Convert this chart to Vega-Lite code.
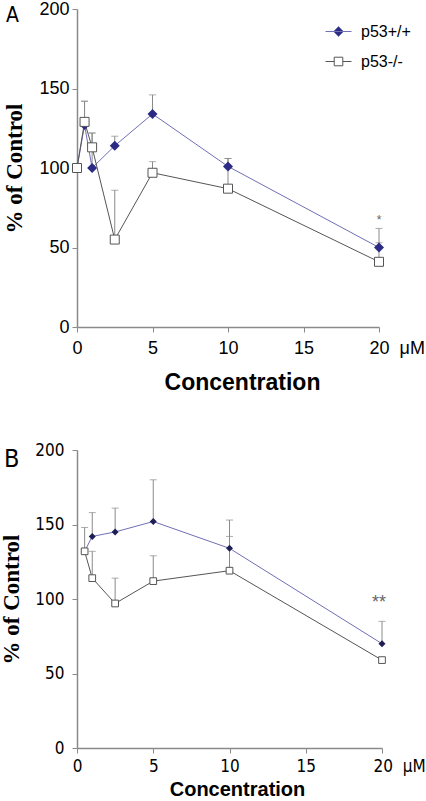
{
  "$schema": "https://vega.github.io/schema/vega-lite/v6.json",
  "padding": {"left": 0, "top": 0, "right": 0, "bottom": 0},
  "background": "white",
  "spacing": 47,
  "config": {
    "view": {"stroke": null},
    "axis": {"grid": false, "domainColor": "#8a8a8a", "domainWidth": 1.5, "tickColor": "#8a8a8a", "labelColor": "#000000", "titleColor": "#000000", "tickSize": 5}
  },
  "datasets": {
    "a": [
      {"x": 0, "v": 100, "err": null, "g": "p53+/+"},
      {"x": 0.5, "v": 127, "err": 142, "g": "p53+/+"},
      {"x": 1, "v": 100, "err": 122, "g": "p53+/+"},
      {"x": 2.5, "v": 114, "err": 120, "g": "p53+/+"},
      {"x": 5, "v": 134, "err": 146, "g": "p53+/+"},
      {"x": 10, "v": 101, "err": 106, "g": "p53+/+"},
      {"x": 20, "v": 50, "err": 62, "g": "p53+/+"},
      {"x": 0, "v": 100, "err": null, "g": "p53-/-"},
      {"x": 0.5, "v": 129, "err": 142, "g": "p53-/-"},
      {"x": 1, "v": 113, "err": 122, "g": "p53-/-"},
      {"x": 2.5, "v": 55, "err": 86, "g": "p53-/-"},
      {"x": 5, "v": 97, "err": 104, "g": "p53-/-"},
      {"x": 10, "v": 87, "err": 106, "g": "p53-/-"},
      {"x": 20, "v": 41, "err": 53, "g": "p53-/-"}
    ],
    "b": [
      {"x": 0.5, "v": 132, "err": null, "g": "p53+/+"},
      {"x": 1, "v": 142, "err": 158, "g": "p53+/+"},
      {"x": 2.5, "v": 145, "err": 161, "g": "p53+/+"},
      {"x": 5, "v": 152, "err": 180, "g": "p53+/+"},
      {"x": 10, "v": 134, "err": 153, "g": "p53+/+"},
      {"x": 20, "v": 70, "err": 85, "g": "p53+/+"},
      {"x": 0.5, "v": 132, "err": 148, "g": "p53-/-"},
      {"x": 1, "v": 114, "err": 132, "g": "p53-/-"},
      {"x": 2.5, "v": 97, "err": 114, "g": "p53-/-"},
      {"x": 5, "v": 112, "err": 129, "g": "p53-/-"},
      {"x": 10, "v": 119, "err": 142, "g": "p53-/-"},
      {"x": 20, "v": 59, "err": null, "g": "p53-/-"}
    ],
    "sigA": [{"x": 20, "y": 67, "t": "*"}],
    "sigB": [{"x": 19.8, "y": 97, "t": "**"}]
  },
  "vconcat": [
    {
      "width": 302,
      "height": 318,
      "title": {"text": "A", "anchor": "start", "frame": "group", "orient": "top", "dx": -71, "dy": 26, "baseline": "top", "offset": 0, "font": "DejaVu Sans Condensed, Liberation Sans", "fontSize": 21, "fontWeight": "normal", "color": "#000000"},
      "encoding": {
        "x": {"field": "x", "type": "quantitative", "scale": {"domain": [0, 20], "nice": false},
          "axis": {"values": [0, 5, 10, 15, 20], "title": "Concentration", "titleFont": "Liberation Sans", "titleFontSize": 23, "titleFontWeight": "bold", "titlePadding": 14, "titleX": 165,
            "labelFont": "Liberation Sans", "labelFontSize": 18, "labelPadding": 7, "labelFlush": false, "labelOverlap": false,
            "labelExpr": "datum.value == 20 ? '20\u00a0\u00a0μM' : datum.label",
            "labelAlign": {"condition": {"test": "datum.value == 20", "value": "left"}, "value": "center"},
            "labelOffset": {"condition": {"test": "datum.value == 20", "value": -10}, "value": 0}}},
        "y": {"field": "v", "type": "quantitative", "scale": {"domain": [0, 200], "nice": false},
          "axis": {"values": [0, 50, 100, 150, 200], "title": "% of Control", "titleFont": "Liberation Serif", "titleFontSize": 23, "titleFontWeight": "bold", "titlePadding": 12,
            "labelFont": "Liberation Sans", "labelFontSize": 18, "labelPadding": 3}}
      },
      "layer": [
        {"data": {"name": "a"}, "transform": [{"filter": "datum.err != null"}],
          "mark": {"type": "rule", "color": "#8a8a8a", "strokeWidth": 1},
          "encoding": {"y2": {"field": "err"}}},
        {"data": {"name": "a"}, "transform": [{"filter": "datum.err != null"}],
          "mark": {"type": "tick", "orient": "horizontal", "color": "#8a8a8a", "size": 7, "thickness": 1},
          "encoding": {"y": {"field": "err", "type": "quantitative"}}},
        {"data": {"name": "a"},
          "mark": {"type": "line", "strokeWidth": 1},
          "encoding": {"color": {"field": "g", "type": "nominal", "scale": {"domain": ["p53+/+", "p53-/-"], "range": ["#6f6fb5", "#555555"]},
            "legend": {"title": null, "orient": "none", "legendX": 248, "legendY": 9, "padding": 0, "symbolSize": 676, "symbolStrokeWidth": 1,
              "labelFont": "Liberation Sans", "labelFontSize": 16, "labelOffset": 9, "rowPadding": 8, "labelColor": "#000000",
              "encode": {"symbols": {"update": {
                "shape": {"signal": "datum.value == 'p53+/+' ? 'M-1,0H1M0,-0.38L0.38,0L0,0.38L-0.38,0Z' : 'M-1,0H-0.33M0.33,0H1M-0.33,-0.33H0.33V0.33H-0.33Z'"},
                "fill": {"signal": "datum.value == 'p53+/+' ? '#2b2b85' : '#ffffff'"},
                "fillOpacity": {"value": 1},
                "stroke": {"signal": "datum.value == 'p53+/+' ? '#6f6fb5' : '#444444'"},
                "strokeWidth": {"value": 1}}}}}}}},
        {"data": {"name": "a"}, "transform": [{"filter": "datum.g == 'p53+/+'"}],
          "mark": {"type": "point", "shape": "diamond", "filled": true, "color": "#2b2b85", "size": 100, "opacity": 1}},
        {"data": {"name": "a"}, "transform": [{"filter": "datum.g == 'p53-/-'"}],
          "mark": {"type": "point", "shape": "square", "filled": true, "fill": "#ffffff", "stroke": "#555555", "strokeWidth": 1, "size": 81, "opacity": 1}},
        {"data": {"name": "sigA"},
          "mark": {"type": "text", "font": "Liberation Sans", "fontSize": 12, "color": "#666666", "baseline": "middle"},
          "encoding": {"y": {"field": "y", "type": "quantitative"}, "text": {"field": "t"}}}
      ]
    },
    {
      "width": 305,
      "height": 298,
      "title": {"text": "B", "anchor": "start", "frame": "group", "orient": "top", "dx": -73, "dy": 31, "baseline": "top", "offset": 0, "font": "DejaVu Sans Condensed, Liberation Sans", "fontSize": 25, "fontWeight": "normal", "color": "#000000"},
      "encoding": {
        "x": {"field": "x", "type": "quantitative", "scale": {"domain": [0, 20], "nice": false},
          "axis": {"values": [0, 5, 10, 15, 20], "title": "Concentration", "titleFont": "Liberation Sans", "titleFontSize": 20, "titleFontWeight": "bold", "titlePadding": 5, "titleX": 160,
            "labelFont": "DejaVu Sans Condensed, Liberation Sans", "labelFontSize": 17, "labelPadding": 5, "labelFlush": false, "labelOverlap": false,
            "labelExpr": "datum.value == 20 ? '20\u00a0\u00a0μM' : datum.label",
            "labelAlign": {"condition": {"test": "datum.value == 20", "value": "left"}, "value": "center"},
            "labelOffset": {"condition": {"test": "datum.value == 20", "value": -9}, "value": 0}}},
        "y": {"field": "v", "type": "quantitative", "scale": {"domain": [0, 200], "nice": false},
          "axis": {"values": [0, 50, 100, 150, 200], "title": "% of Control", "titleFont": "Liberation Serif", "titleFontSize": 23, "titleFontWeight": "bold", "titlePadding": 11,
            "labelFont": "DejaVu Sans Condensed, Liberation Sans", "labelFontSize": 17, "labelPadding": 8}}
      },
      "layer": [
        {"data": {"name": "b"}, "transform": [{"filter": "datum.err != null"}],
          "mark": {"type": "rule", "color": "#8a8a8a", "strokeWidth": 1},
          "encoding": {"y2": {"field": "err"}}},
        {"data": {"name": "b"}, "transform": [{"filter": "datum.err != null"}],
          "mark": {"type": "tick", "orient": "horizontal", "color": "#8a8a8a", "size": 7, "thickness": 1},
          "encoding": {"y": {"field": "err", "type": "quantitative"}}},
        {"data": {"name": "b"},
          "mark": {"type": "line", "strokeWidth": 1},
          "encoding": {"color": {"field": "g", "type": "nominal", "scale": {"domain": ["p53+/+", "p53-/-"], "range": ["#7070b8", "#555555"]},
            "legend": {"title": null, "orient": "none", "legendX": 251, "legendY": -1, "padding": 0, "symbolSize": 676, "symbolStrokeWidth": 1,
              "labelFont": "DejaVu Sans Condensed, Liberation Sans", "labelFontSize": 17, "labelOffset": 14, "rowPadding": 12, "labelColor": "#000000",
              "encode": {"symbols": {"update": {
                "shape": {"signal": "datum.value == 'p53+/+' ? 'M-1,0H1M0,-0.3L0.22,0L0,0.3L-0.22,0Z' : 'M-1,0H-0.27M0.27,0H1M-0.27,-0.27H0.27V0.27H-0.27Z'"},
                "fill": {"signal": "datum.value == 'p53+/+' ? '#1f1f55' : '#ffffff'"},
                "fillOpacity": {"value": 1},
                "stroke": {"signal": "datum.value == 'p53+/+' ? '#6f6fb5' : '#222222'"},
                "strokeWidth": {"value": 1}}}}}}}},
        {"data": {"name": "b"}, "transform": [{"filter": "datum.g == 'p53+/+'"}],
          "mark": {"type": "point", "shape": "diamond", "filled": true, "color": "#1f1f55", "size": 49, "opacity": 1}},
        {"data": {"name": "b"}, "transform": [{"filter": "datum.g == 'p53-/-'"}],
          "mark": {"type": "point", "shape": "square", "filled": true, "fill": "#ffffff", "stroke": "#555555", "strokeWidth": 1, "size": 45, "opacity": 1}},
        {"data": {"name": "sigB"},
          "mark": {"type": "text", "font": "Liberation Sans", "fontSize": 18, "color": "#666666", "baseline": "middle"},
          "encoding": {"y": {"field": "y", "type": "quantitative"}, "text": {"field": "t"}}}
      ]
    }
  ]
}
